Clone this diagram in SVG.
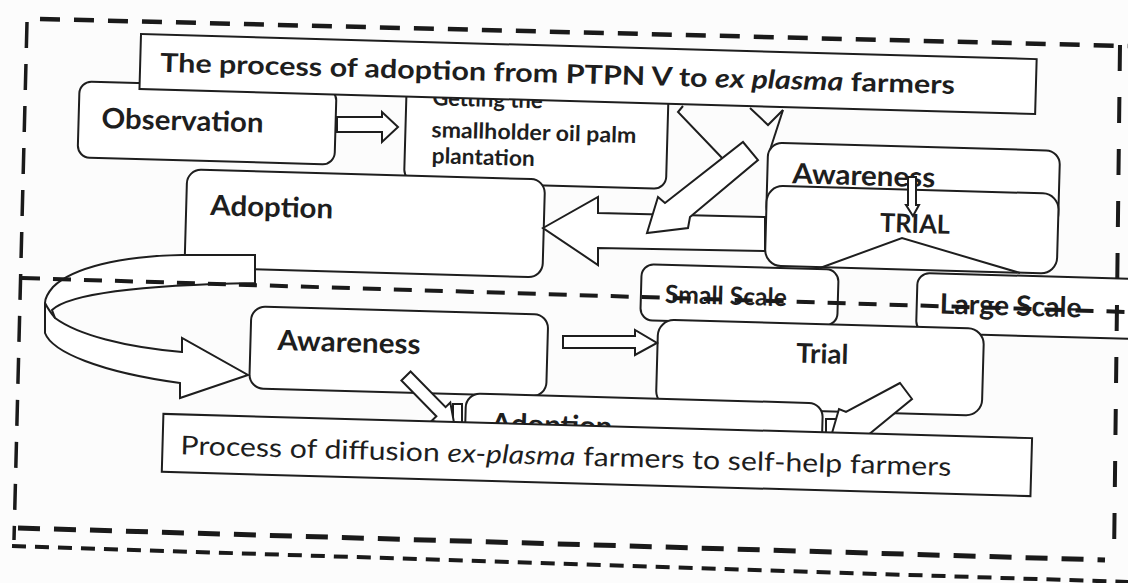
<svg xmlns="http://www.w3.org/2000/svg" width="1128" height="583" viewBox="0 0 1128 583">
<style>
.box{fill:#fff;stroke:#1e1e1e;stroke-width:2}
.lbl{font-family:Lato,"Open Sans","Liberation Sans",sans-serif;font-weight:700;fill:#1e1e1e}
.reg{font-family:Lato,"Open Sans","Liberation Sans",sans-serif;font-weight:400;fill:#1e1e1e}
.arr{fill:#fff;stroke:#1e1e1e;stroke-width:2;stroke-linejoin:miter}
.ln{fill:none;stroke:#1e1e1e;stroke-width:2}
.dash{fill:none;stroke:#1a1a1a}
</style>
<rect width="1128" height="583" fill="#fcfcfc"/>

<g id="observation" transform="rotate(1.6 564 291)">
<rect class="box" x="74" y="95" width="257" height="76" rx="12"/>
<text class="lbl" x="97" y="141" font-size="28" textLength="162" lengthAdjust="spacingAndGlyphs">Observation</text>
</g>
<g id="getting" transform="rotate(1.6 564 291)">
<rect class="box" x="401" y="88" width="262" height="98" rx="12"/>
<text class="lbl" x="427" y="109" font-size="22">Getting the</text>
<text class="lbl" x="427" y="141" font-size="22" textLength="205" lengthAdjust="spacingAndGlyphs">smallholder oil palm</text>
<text class="lbl" x="428" y="167" font-size="22" textLength="103" lengthAdjust="spacingAndGlyphs">plantation</text>
</g>
<g id="adoption-top" transform="rotate(1.6 564 291)">
<rect class="box" x="184" y="180" width="358" height="98" rx="14"/>
<text class="lbl" x="208" y="225" font-size="28" textLength="123" lengthAdjust="spacingAndGlyphs">Adoption</text>
</g>
<g id="awareness-top" transform="rotate(1.6 564 291)">
<rect class="box" x="764" y="137" width="292" height="78" rx="14"/>
<text class="lbl" x="789" y="177" font-size="28" textLength="143" lengthAdjust="spacingAndGlyphs">Awareness</text>
</g>
<g id="trial-top" transform="rotate(1.6 564 291)">
<rect class="box" x="764" y="180" width="292" height="80" rx="16"/>
<text class="lbl" x="878" y="223" font-size="26" textLength="70" lengthAdjust="spacingAndGlyphs">TRIAL</text>
</g>
<g id="small-scale" transform="rotate(1.6 564 291)">
<rect class="box" x="641" y="262" width="197" height="56" rx="12"/>
<text class="lbl" x="665" y="300" font-size="25" textLength="122" lengthAdjust="spacingAndGlyphs">Small Scale</text>
</g>
<g id="large-scale" transform="rotate(1.6 564 291)">
<rect class="box" x="917" y="263" width="260" height="60" rx="12"/>
<text class="lbl" x="940" y="303" font-size="28" textLength="142" lengthAdjust="spacingAndGlyphs">Large Scale</text>
</g>
<g id="trial-bottom" transform="rotate(1.6 564 291)">
<rect class="box" x="659" y="317" width="326" height="87" rx="16"/>
<text class="lbl" x="798" y="356" font-size="27" textLength="52" lengthAdjust="spacingAndGlyphs">Trial</text>
</g>
<g id="awareness-bottom" transform="rotate(1.6 564 291)">
<rect class="box" x="252" y="315" width="297" height="82" rx="14"/>
<text class="lbl" x="279" y="358" font-size="28" textLength="143" lengthAdjust="spacingAndGlyphs">Awareness</text>
</g>
<g id="adoption-bottom" transform="rotate(1.6 564 291)">
<rect class="box" x="469" y="396" width="357" height="60" rx="14"/>
<text class="lbl" x="495" y="435" font-size="28" textLength="121" lengthAdjust="spacingAndGlyphs">Adoption</text>
</g>

<g id="connectors">
<polygon class="arr" points="337,117 382,117 382,112 398,127 382,142 382,132 337,132"/>
<polygon class="arr" points="543,228 598,197 598,213 765,217 765,251 598,248 598,265"/>
<polyline class="ln" points="683,106 678,112 724,160"/>
<polyline class="ln" points="750,108 768,125 783,110"/>
<line class="ln" x1="783" y1="110" x2="770" y2="150"/>
<polygon class="arr" points="647,233 658,197 665,203 743,142 758,160 690,217 688,228"/>
<polygon class="arr" points="908,177 916,177 916,205 919,205 913,216 906,205 908,205"/>
<polyline class="ln" points="820,268 902,238 1020,273"/>
<polygon class="arr" points="563,336 635,336 635,330 657,343 635,355 635,348 563,348"/>
<rect class="arr" x="453" y="404" width="9" height="24"/>
<rect class="arr" x="826" y="419" width="12" height="18"/>
<polygon class="arr" points="410.6,371.5 445.6,407.2 450.3,402.6 455,428 431.7,420.8 436.4,416.2 401.4,380.5"/>
<polygon class="arr" points="900,383 846,412 839,409 830,440 862,440 912,399"/>
<path class="arr" d="M255,255 L182,255 C120,256 72,268 53,287 C47,294 45,299 45,303 L45,333 C52,352 100,372 180,383 L180,398 L248,375 L182,338 L182,352 C125,347 78,335 55,318 L52,310 C70,293 140,285 255,283 Z"/>
<path class="ln" d="M45,303 C48,309 51,313 55,318"/>
</g>

<g id="title-adoption" transform="rotate(1.6 564 291)">
<rect class="box" x="134" y="46" width="896" height="55"/>
<text class="lbl" x="154" y="83" font-size="26" textLength="795" lengthAdjust="spacingAndGlyphs">The process of adoption from PTPN V to <tspan font-style="italic">ex plasma</tspan> farmers</text>
</g>
<g id="title-diffusion" transform="rotate(1.6 564 291)">
<rect class="box" x="167" y="425" width="869" height="58"/>
<text class="reg" x="185" y="465" font-size="26" textLength="771" lengthAdjust="spacingAndGlyphs">Process of diffusion <tspan font-style="italic">ex-plasma</tspan> farmers to self-help farmers</text>
</g>

<g id="frame">
<line class="dash" x1="40" y1="19" x2="1128" y2="46" stroke-width="4.5" stroke-dasharray="20 14"/>
<line class="dash" x1="27" y1="22" x2="14" y2="540" stroke-width="3.5" stroke-dasharray="26 16"/>
<line class="dash" x1="18" y1="528" x2="1105" y2="560" stroke-width="5" stroke-dasharray="22 14"/>
<line class="dash" x1="12" y1="546" x2="1128" y2="582" stroke-width="4" stroke-dasharray="14 9"/>
<line class="dash" x1="1120" y1="45" x2="1114" y2="560" stroke-width="4" stroke-dasharray="26 26"/>
<line class="dash" x1="22" y1="278" x2="1128" y2="312" stroke-width="4" stroke-dasharray="18 13"/>
</g>
</svg>
